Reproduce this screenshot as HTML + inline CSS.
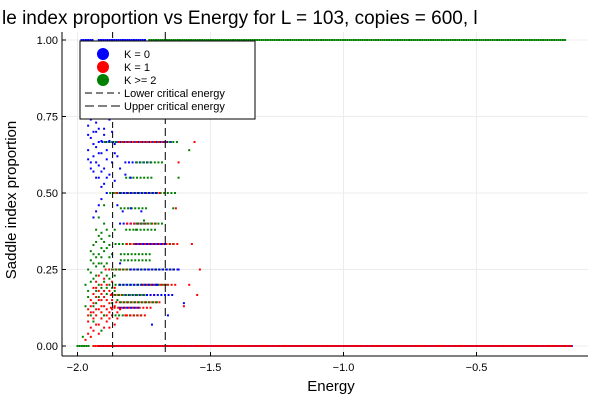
<!DOCTYPE html>
<html><head><meta charset="utf-8"><style>
body{margin:0;background:#fff;}
svg{display:block;font-family:"Liberation Sans","DejaVu Sans",sans-serif;}
</style></head><body>
<svg id="chart" width="600" height="400" viewBox="0 0 600 400">
<text x="2" y="24" font-size="19" fill="#000">le index proportion vs Energy for L = 103, copies = 600, l</text>
<rect x="62" y="32" width="526" height="324" fill="#fff"/>
<g id="grid"></g>
<g id="marks"></g>
<g id="axes"></g>
<text x="331" y="391" font-size="15" text-anchor="middle">Energy</text>
<text transform="translate(16,200) rotate(-90)" font-size="15" text-anchor="middle">Saddle index proportion</text>
<g>
<rect x="80" y="41" width="175" height="78" fill="#fff" stroke="#000" stroke-width="1"/>
<g><circle cx="103" cy="54" r="6" fill="#0000ff"/><text x="124" y="58" font-size="11">K = 0</text></g>
<g><circle cx="103" cy="67" r="6" fill="#ff0000"/><text x="124" y="71" font-size="11">K = 1</text></g>
<g><circle cx="103" cy="80" r="6" fill="#008000"/><text x="124" y="84" font-size="11">K &gt;= 2</text></g>
<g><line x1="85" y1="93" x2="120" y2="93" stroke="#000" stroke-dasharray="7,4"/><text x="124" y="97" font-size="11">Lower critical energy</text></g>
<g><line x1="85" y1="106" x2="120" y2="106" stroke="#000" stroke-dasharray="9,4"/><text x="124" y="110" font-size="11">Upper critical energy</text></g>
</g>
</svg>
<script>
const xTicks=[-2.0,-1.5,-1.0,-0.5];
const xTickLabels=["\u22122.0","\u22121.5","\u22121.0","\u22120.5"];
const yTicks=[0,0.25,0.5,0.75,1.0];
const yTickLabels=["0.00","0.25","0.50","0.75","1.00"];
const lowerCritical=-1.868;
const upperCritical=-1.67;
// segments of dense points: [p, Estart, Eend, color]
const rowSegments=[
[1,-1.985,-1.94,"b"],[1,-1.92,-1.74,"b"],[1,-1.73,-0.16,"g"],
[0,-2.0,-1.955,"g"],[0,-1.92,-0.14,"b"],[0,-1.94,-0.14,"r"],
[0.6667,-1.92,-1.64,"b"],[0.6667,-1.90,-1.62,"g"],[0.6667,-1.85,-1.66,"r"],
[0.5,-1.88,-1.63,"g"],[0.5,-1.86,-1.68,"r"],[0.5,-1.84,-1.70,"b"],
[0.3333,-1.86,-1.64,"g"],[0.3333,-1.82,-1.62,"r"],[0.3333,-1.78,-1.66,"b"],
[0.25,-1.90,-1.62,"r"],[0.25,-1.86,-1.64,"g"],[0.25,-1.80,-1.62,"b"],
[0.2,-1.86,-1.66,"g"],[0.2,-1.76,-1.62,"r"],[0.2,-1.84,-1.70,"b"],
[0.1667,-1.88,-1.70,"r"],[0.1667,-1.82,-1.64,"b"],[0.1667,-1.86,-1.74,"g"],
[0.1429,-1.86,-1.68,"r"],[0.1429,-1.84,-1.70,"g"],
[0.125,-1.88,-1.72,"r"],[0.125,-1.84,-1.76,"b"],[0.1,-1.86,-1.76,"g"],[0.1,-1.82,-1.74,"r"],
[0.75,-1.78,-1.66,"g"],[0.75,-1.84,-1.78,"b"],[0.6,-1.82,-1.72,"b"],[0.6,-1.78,-1.68,"g"],
[0.4,-1.84,-1.74,"b"],[0.4,-1.82,-1.70,"r"],[0.4,-1.78,-1.68,"g"],
[0.45,-1.84,-1.74,"g"],[0.55,-1.82,-1.72,"g"],[0.38,-1.82,-1.70,"g"],[0.3,-1.84,-1.72,"g"],[0.28,-1.84,-1.72,"g"]
];
const blueData=[[-1.95,0.74],[-1.93,0.73],[-1.96,0.72],[-1.92,0.71],[-1.94,0.70],[-1.90,0.69],[-1.95,0.68],[-1.93,0.65],[-1.96,0.64],[-1.91,0.63],[-1.94,0.62],[-1.89,0.61],[-1.95,0.60],[-1.92,0.59],[-1.90,0.58],[-1.94,0.57],[-1.88,0.56],[-1.92,0.55],[-1.86,0.54],[-1.90,0.53],[-1.91,0.48],[-1.92,0.46],[-1.93,0.44],[-1.94,0.42],[-1.88,0.74],[-1.87,0.70],[-1.86,0.66],[-1.85,0.62],[-1.84,0.58],[-1.82,0.56],[-1.80,0.55],[-1.93,0.70],[-1.91,0.67],[-1.89,0.64],[-1.87,0.60],[-1.85,0.46],[-1.83,0.44],[-1.80,0.45],[-1.76,0.44],[-1.70,0.20],[-1.62,0.25],[-1.60,0.14],[-1.66,0.10],[-1.72,0.07],[-1.84,0.27],[-1.96,0.69],[-1.94,0.66],[-1.92,0.63],[-1.95,0.58],[-1.93,0.55],[-1.91,0.52],[-1.89,0.50],[-1.96,0.61],[-1.90,0.71],[-1.88,0.67],[-1.86,0.63],[-1.93,0.60],[-1.91,0.57],[-1.89,0.55]];
const redData=[[-1.97,0.02],[-1.96,0.04],[-1.95,0.06],[-1.94,0.05],[-1.96,0.08],[-1.93,0.10],[-1.95,0.11],[-1.92,0.12],[-1.94,0.14],[-1.91,0.09],[-1.90,0.13],[-1.93,0.16],[-1.92,0.18],[-1.89,0.15],[-1.88,0.11],[-1.91,0.20],[-1.94,0.19],[-1.90,0.22],[-1.87,0.17],[-1.86,0.13],[-1.95,0.15],[-1.92,0.07],[-1.89,0.08],[-1.85,0.09],[-1.88,0.06],[-1.93,0.12],[-1.91,0.15],[-1.96,0.12],[-1.90,0.18],[-1.87,0.21],[-1.84,0.12],[-1.82,0.10],[-1.56,0.6667],[-1.57,0.3333],[-1.54,0.25],[-1.58,0.20],[-1.55,0.1667],[-1.60,0.13],[-1.63,0.45],[-1.62,0.60],[-1.95,0.03],[-1.94,0.09],[-1.93,0.07],[-1.92,0.04],[-1.91,0.11],[-1.90,0.06],[-1.89,0.12],[-1.88,0.09],[-1.87,0.10],[-1.86,0.07],[-1.94,0.17],[-1.93,0.21],[-1.92,0.15],[-1.91,0.17],[-1.90,0.10],[-1.89,0.20],[-1.88,0.14],[-1.87,0.12],[-1.86,0.19],[-1.85,0.11],[-1.96,0.10],[-1.95,0.13],[-1.94,0.11],[-1.93,0.19],[-1.92,0.23],[-1.91,0.13],[-1.90,0.16],[-1.89,0.10],[-1.88,0.18],[-1.87,0.15]];
const greenData=[[-1.98,0.03],[-1.95,0.10],[-1.96,0.18],[-1.94,0.22],[-1.93,0.26],[-1.95,0.28],[-1.92,0.30],[-1.94,0.33],[-1.91,0.35],[-1.93,0.38],[-1.90,0.40],[-1.92,0.42],[-1.96,0.25],[-1.97,0.20],[-1.91,0.24],[-1.89,0.27],[-1.90,0.31],[-1.88,0.36],[-1.92,0.20],[-1.89,0.19],[-1.93,0.14],[-1.90,0.10],[-1.87,0.14],[-1.88,0.22],[-1.86,0.18],[-1.94,0.08],[-1.91,0.05],[-1.85,0.15],[-1.89,0.32],[-1.87,0.30],[-1.90,0.46],[-1.91,0.37],[-1.95,0.31],[-1.86,0.38],[-1.60,0.75],[-1.58,0.64],[-1.62,0.55],[-1.64,0.45],[-1.75,0.41],[-1.78,0.38],[-1.95,0.21],[-1.94,0.27],[-1.93,0.23],[-1.92,0.27],[-1.91,0.29],[-1.90,0.26],[-1.89,0.23],[-1.88,0.29],[-1.87,0.25],[-1.86,0.23],[-1.94,0.13],[-1.93,0.18],[-1.92,0.16],[-1.91,0.19],[-1.90,0.21],[-1.89,0.17],[-1.88,0.20],[-1.87,0.19],[-1.96,0.16],[-1.95,0.24],[-1.94,0.30],[-1.93,0.34],[-1.92,0.36],[-1.91,0.32],[-1.90,0.34],[-1.89,0.38],[-1.88,0.33],[-1.97,0.13],[-1.93,0.29],[-1.91,0.27]];
const NS="http://www.w3.org/2000/svg";
const L=62,R=588,T=32,B=356;
function xs(e){return 77.5+(e+2)*266;}
function ys(p){return 346-p*306;}
const colors={b:"#0000ff",r:"#ff0000",g:"#008000"};
const phase={b:0,r:1.5,g:0.8};
const grid=document.getElementById("grid"),marks=document.getElementById("marks"),axes=document.getElementById("axes");
function mk(tag,attrs,parent){const el=document.createElementNS(NS,tag);for(const k in attrs)el.setAttribute(k,attrs[k]);parent.appendChild(el);return el;}
xTicks.forEach((t,i)=>{
 const gl=mk("line",{x1:xs(t),x2:xs(t),y1:T,y2:B,stroke:"#ececec","stroke-width":1},grid);
 
 
 const tk=mk("line",{x1:xs(t),x2:xs(t),y1:B,y2:B-4,stroke:"#000"},axes);
 
 
 const tx=mk("text",{x:xs(t),y:B+15,"font-size":11,"text-anchor":"middle"},axes);
 tx.textContent=xTickLabels[i];
 
 
});
yTicks.forEach((t,i)=>{
 const gl=mk("line",{x1:L,x2:R,y1:ys(t),y2:ys(t),stroke:"#ececec","stroke-width":1},grid);
 
 
 const tk=mk("line",{x1:L,x2:L+4,y1:ys(t),y2:ys(t),stroke:"#000"},axes);
 
 
 const tx=mk("text",{x:L-4,y:ys(t)+4,"font-size":11,"text-anchor":"end"},axes);
 tx.textContent=yTickLabels[i];
 
 
});
const ax1=mk("line",{x1:L,x2:R,y1:B,y2:B,stroke:"#000"},axes);


const ax2=mk("line",{x1:L,x2:L,y1:T,y2:B,stroke:"#000"},axes);


rowSegments.forEach(s=>{
 const x1=xs(s[1]),x2=xs(s[2]);
 const dense=(s[0]===0||s[0]===1);
 const step=dense?2.2:3.6;
 for(let x=x1+(dense?0:phase[s[3]]);x<=x2;x+=step){
  const c=mk("rect",{x:x-1,y:ys(s[0])-1,width:2,height:2,fill:colors[s[3]]},marks);
  
  
 }
});
[[blueData,"b"],[redData,"r"],[greenData,"g"]].forEach(([d,k])=>{
 d.forEach(pt=>{
  const c=mk("rect",{x:xs(pt[0])-1,y:ys(pt[1])-1,width:2,height:2,fill:colors[k]},marks);
  
  
 });
});
const lo=mk("line",{x1:xs(lowerCritical),x2:xs(lowerCritical),y1:T,y2:B,stroke:"#000","stroke-dasharray":"6,4","stroke-width":1},marks);


const up=mk("line",{x1:xs(upperCritical),x2:xs(upperCritical),y1:T,y2:B,stroke:"#000","stroke-dasharray":"8,4","stroke-width":1},marks);


</script>
</body></html>
